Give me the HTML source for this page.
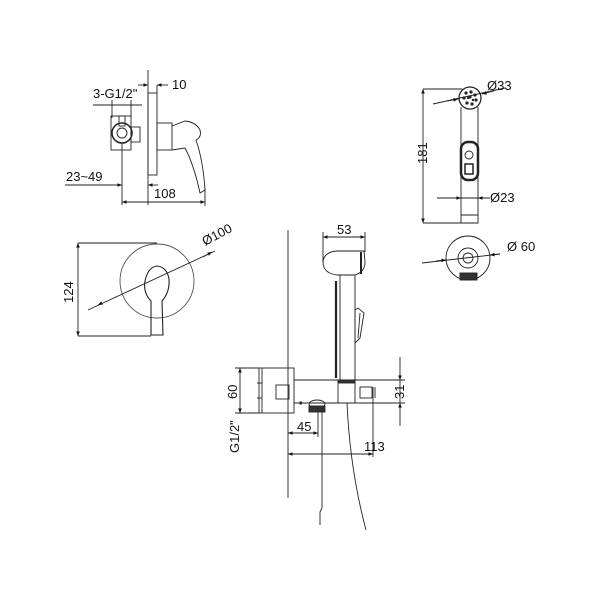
<!DOCTYPE html>
<html><head><style>html,body{margin:0;padding:0;background:#fff}svg{display:block}text{font-family:"Liberation Sans",sans-serif;font-size:13px;fill:#111}</style></head>
<body>
<svg width="600" height="600" viewBox="0 0 600 600" xmlns="http://www.w3.org/2000/svg">
<defs>
<marker id="a" viewBox="0 0 10 10" refX="10" refY="5" markerWidth="7" markerHeight="5" orient="auto-start-reverse"><path d="M0,1 L10,5 L0,9z" fill="#111"/></marker>
</defs>
<g stroke="#222" stroke-width="0.9" fill="none">
<!-- TOP LEFT -->
<line x1="148" y1="70" x2="148" y2="205"/>
<rect x="148" y="93" width="9" height="82"/>
<line x1="138" y1="85" x2="148" y2="85" marker-end="url(#a)"/>
<line x1="168" y1="85" x2="157" y2="85" marker-end="url(#a)"/>
<line x1="157" y1="85" x2="157" y2="93"/>
<line x1="93" y1="105" x2="142" y2="105"/>
<line x1="112" y1="100" x2="112" y2="118"/><line x1="131" y1="100" x2="131" y2="118"/>
<rect x="111" y="116" width="20" height="34"/>
<circle cx="122" cy="133" r="10" stroke-width="1.5"/>
<circle cx="122" cy="133" r="5"/>
<rect x="119" y="116" width="6" height="10"/>
<rect x="131" y="127" width="9" height="15"/>
<rect x="157" y="123" width="15" height="27"/>
<path d="M172,126 L185,121 Q196,122 200,130 Q202,137 196,140 Q203,160 205,190 L200,193 Q194,165 185,148 L172,150"/>
<line x1="122" y1="143" x2="122" y2="205"/>
<line x1="65" y1="185" x2="122" y2="185"/>
<line x1="112" y1="185" x2="122" y2="185" marker-end="url(#a)"/>
<line x1="158" y1="185" x2="148" y2="185" marker-end="url(#a)"/>
<line x1="205" y1="188" x2="205" y2="206"/>
<line x1="122" y1="202" x2="205" y2="202" marker-start="url(#a)" marker-end="url(#a)"/>
<!-- LEFT MIDDLE -->
<circle cx="157" cy="281" r="37" stroke="#555"/>
<path d="M151,301 Q143,293 145,281 Q148,267 157,266 Q167,267 169,279 Q170,292 162,301 L163,335 L151,335 Z" stroke-width="1.1"/>
<line x1="78" y1="243" x2="157" y2="243"/>
<line x1="78" y1="336" x2="151" y2="336"/>
<line x1="78" y1="243" x2="78" y2="336" marker-start="url(#a)" marker-end="url(#a)"/>
<line x1="88" y1="310" x2="215" y2="251"/>
<line x1="100" y1="304" x2="98" y2="305" marker-end="url(#a)"/>
<line x1="203" y1="257" x2="212" y2="252" marker-end="url(#a)"/>
<!-- TOP RIGHT -->
<circle cx="470" cy="98" r="11" stroke-width="1.3"/>
<g fill="#222" stroke="none"><circle cx="466" cy="93" r="1.6"/><circle cx="471" cy="92" r="1.6"/><circle cx="475" cy="95" r="1.6"/><circle cx="464" cy="98" r="1.6"/><circle cx="470" cy="97" r="1.6"/><circle cx="476" cy="100" r="1.6"/><circle cx="467" cy="103" r="1.6"/><circle cx="472" cy="104" r="1.6"/><circle cx="468" cy="98" r="1.2"/><circle cx="473" cy="100" r="1.2"/></g>
<line x1="433" y1="104" x2="505" y2="88"/>
<line x1="447" y1="101" x2="458" y2="99" marker-end="url(#a)"/>
<line x1="494" y1="91" x2="482" y2="94" marker-end="url(#a)"/>
<path d="M461,107 L461,223 L478,223 L478,107"/>
<line x1="461" y1="215" x2="478" y2="215"/>
<rect x="461" y="142" width="17" height="38" rx="7" stroke-width="2.5"/>
<circle cx="469" cy="155" r="4"/>
<rect x="465" y="164" width="8" height="10" stroke-width="1.5"/>
<line x1="423" y1="89" x2="462" y2="89"/>
<line x1="423" y1="223" x2="461" y2="223"/>
<line x1="423" y1="89" x2="423" y2="223" marker-start="url(#a)" marker-end="url(#a)"/>
<line x1="437" y1="198" x2="490" y2="198"/>
<line x1="451" y1="198" x2="461" y2="198" marker-end="url(#a)"/>
<line x1="488" y1="198" x2="478" y2="198" marker-end="url(#a)"/>
<circle cx="468" cy="258" r="22"/>
<circle cx="468" cy="258" r="10"/>
<circle cx="468" cy="258" r="5"/>
<rect x="460" y="273" width="17" height="7" fill="#333"/>
<line x1="422" y1="263" x2="500" y2="254"/>
<line x1="436" y1="261" x2="446" y2="260" marker-end="url(#a)"/>
<line x1="500" y1="254" x2="490" y2="255" marker-end="url(#a)"/>
<!-- BOTTOM CENTER -->
<line x1="288" y1="230" x2="288" y2="498"/>
<line x1="323" y1="232" x2="323" y2="262"/><line x1="365" y1="232" x2="365" y2="252"/>
<line x1="323" y1="237" x2="365" y2="237" marker-start="url(#a)" marker-end="url(#a)"/>
<path d="M364,251 L337,251 Q323,252 323,263 Q324,274 338,275 L355,275 Q365,272 365,262 Z"/>
<line x1="361" y1="252" x2="361" y2="274" stroke-width="2"/>
<path d="M340,275 L340,380 M355,275 L355,380"/>
<line x1="336" y1="281" x2="336" y2="378" stroke-width="2.2"/>
<path d="M355,310 L355,343 L360,338 L364,313 L358,308 Z"/>
<line x1="360" y1="313" x2="358" y2="338"/>
<rect x="259" y="368" width="35" height="45"/>
<line x1="262" y1="368" x2="262" y2="413"/>
<rect x="276" y="385" width="13" height="14"/>
<line x1="294" y1="380" x2="375" y2="380"/>
<line x1="294" y1="403" x2="375" y2="403"/>
<rect x="338" y="380" width="17" height="23"/>
<rect x="338" y="380" width="17" height="3" fill="#333"/>
<rect x="360" y="387" width="12" height="11"/>
<line x1="375" y1="387" x2="375" y2="398"/>
<line x1="360" y1="380" x2="405" y2="380"/><line x1="375" y1="403" x2="405" y2="403"/>
<line x1="400" y1="357" x2="400" y2="380" marker-end="url(#a)"/>
<line x1="400" y1="426" x2="400" y2="403" marker-end="url(#a)"/>
<line x1="400" y1="380" x2="400" y2="403"/>
<line x1="235" y1="368" x2="259" y2="368"/><line x1="235" y1="413" x2="259" y2="413"/>
<line x1="240" y1="368" x2="240" y2="413" marker-start="url(#a)" marker-end="url(#a)"/>
<line x1="257" y1="383" x2="262" y2="383"/><line x1="257" y1="398" x2="262" y2="398"/>
<rect x="300" y="402" width="1.5" height="2" fill="#222"/>
<ellipse cx="317" cy="404" rx="8" ry="4"/>
<rect x="309" y="406" width="16" height="6" fill="#333"/>
<line x1="318" y1="408" x2="318" y2="437"/>
<line x1="288" y1="433" x2="318" y2="433" marker-start="url(#a)" marker-end="url(#a)"/>
<line x1="373" y1="387" x2="373" y2="457"/>
<line x1="288" y1="454" x2="373" y2="454" marker-start="url(#a)" marker-end="url(#a)"/>
<path d="M322,408 L322,508 L320,512 L320,525"/>
<path d="M347,403 Q350,470 366,530"/>
</g>
<text x="93" y="98">3-G1/2"</text>
<text x="172" y="89">10</text>
<text x="66" y="181">23~49</text>
<text x="154" y="198">108</text>
<text x="205" y="246" transform="rotate(-28 205 246)">Ø100</text>
<text x="0" y="0" transform="translate(73,303) rotate(-90)">124</text>
<text x="487" y="90">Ø33</text>
<text x="0" y="0" transform="translate(427,164) rotate(-90)">181</text>
<text x="490" y="202">Ø23</text>
<text x="507" y="251">Ø 60</text>
<text x="337" y="234">53</text>
<text x="0" y="0" transform="translate(237,399) rotate(-90)">60</text>
<text x="0" y="0" transform="translate(404,399) rotate(-90)">31</text>
<text x="0" y="0" transform="translate(239,453) rotate(-90)">G1/2"</text>
<text x="297" y="431">45</text>
<text x="364" y="451">113</text>
</svg>
</body></html>
